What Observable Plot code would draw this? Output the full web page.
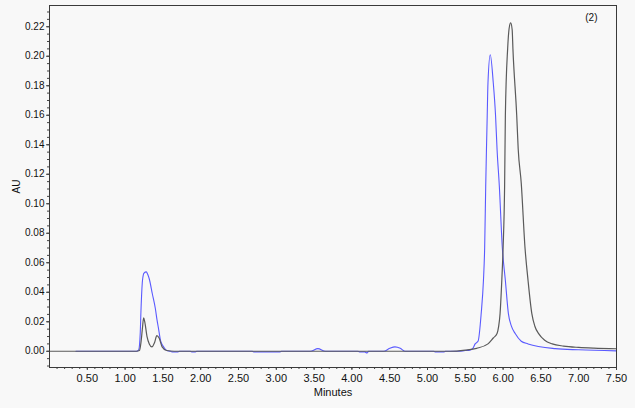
<!DOCTYPE html>
<html><head><meta charset="utf-8">
<script src="https://cdn.jsdelivr.net/npm/d3@7"></script>
<script src="https://cdn.jsdelivr.net/npm/@observablehq/plot@0.6"></script>
<style>
html,body{margin:0;padding:0;background:#f8f8f8;}
#chart svg{display:block;}
</style></head><body><div id="chart"></div>
<script>
// Black (gray) trace: retention time (min) and absorbance (AU)
const blackTime = [0.00,1.15,1.19,1.21,1.23,1.245,1.26,1.29,1.32,1.355,1.39,1.42,1.45,1.49,1.55,1.65,
  5.30,5.50,5.65,5.80,5.87,5.92,5.94,5.96,5.98,6.00,6.02,6.03,6.06,6.08,6.10,6.12,6.13,6.18,6.20,6.24,6.29,6.33,6.38,6.42,6.47,6.55,6.65,6.80,7.00,7.20,7.50];
const blackAU = [0,0,0.0005,0.006,0.016,0.0226,0.020,0.010,0.005,0.003,0.006,0.0106,0.009,0.003,0.0005,0,
  0,0.0008,0.002,0.005,0.009,0.012,0.0165,0.0255,0.045,0.070,0.112,0.160,0.205,0.219,0.2226,0.218,0.205,0.160,0.137,0.114,0.070,0.048,0.0255,0.017,0.012,0.0075,0.005,0.0035,0.0026,0.0021,0.0017];

// Blue trace
const blueTime = [0.35,1.15,1.18,1.20,1.21,1.23,1.25,1.28,1.30,1.32,1.36,1.40,1.42,1.44,1.47,1.51,1.55,1.60,
  1.62,1.70,1.72,1.86,1.88,1.93,1.95,2.68,2.70,3.05,3.07,3.45,3.55,3.65,4.08,4.10,4.17,4.20,4.22,4.42,4.50,4.57,4.64,4.70,
  5.08,5.10,5.22,5.24,5.40,5.50,5.56,5.60,5.63,5.67,5.71,5.74,5.756,5.77,5.78,5.79,5.80,5.83,5.87,5.90,5.92,5.95,5.99,6.03,6.07,6.11,6.16,6.24,6.33,6.69,7.00,7.50];
const blueAU = [0,0,0.001,0.012,0.0276,0.048,0.053,0.0538,0.052,0.049,0.039,0.029,0.022,0.016,0.007,0.003,0.0005,0,
  -0.0004,-0.0004,0,0,-0.0004,-0.0004,0,0,-0.0004,-0.0004,0,0,0.0018,0,0,-0.0004,-0.0004,-0.0012,0,0,0.002,0.003,0.002,0,
  0,-0.0004,-0.0004,0,0,0.0005,0.0008,0.002,0.005,0.007,0.0255,0.048,0.070,0.112,0.137,0.160,0.182,0.201,0.182,0.160,0.137,0.112,0.070,0.048,0.0255,0.017,0.012,0.0068,0.005,0.0018,0.001,0.0003];

const xTicks = [0.5,1.0,1.5,2.0,2.5,3.0,3.5,4.0,4.5,5.0,5.5,6.0,6.5,7.0,7.5];
const xMinorTicks = d3.range(1, 76).map(i => i / 10);
const yTicks = [0,0.02,0.04,0.06,0.08,0.10,0.12,0.14,0.16,0.18,0.20,0.22];
const yMinorTicks = d3.range(-2, 47).map(i => i * 0.005);

const blackData = blackTime.map((t, i) => ({t, v: blackAU[i]}));
const blueData = blueTime.map((t, i) => ({t, v: blueAU[i]}));

const chart = Plot.plot({
  width: 635, height: 408,
  marginLeft: 49, marginRight: 19, marginTop: 5, marginBottom: 41,
  style: {background: "#f8f8f8", fontFamily: "'Liberation Sans', Arial, sans-serif", fontSize: "10px", color: "#111"},
  x: {domain: [0, 7.5]},
  y: {domain: [-0.011, 0.2344]},
  marks: [
    Plot.axisX({ticks: xMinorTicks, tickSize: 2, tickFormat: () => "", label: null, stroke: "#444"}),
    Plot.axisX({ticks: xTicks, tickSize: 3, tickPadding: 4, tickFormat: d3.format(".2f"), stroke: "#444",
      label: "Minutes", labelAnchor: "center", labelArrow: "none", labelOffset: 28, fontSize: 11}),
    Plot.axisY({ticks: yMinorTicks, tickSize: 2, tickFormat: () => "", label: null, stroke: "#444"}),
    Plot.axisY({ticks: yTicks, tickSize: 3, tickPadding: 2, tickFormat: d3.format(".2f"), stroke: "#444",
      label: "AU", labelAnchor: "center", labelArrow: "none", labelOffset: 37}),
    Plot.line(blueData, {x: "t", y: "v", stroke: "#5a5aff", strokeWidth: 1.1, curve: "monotone-x"}),
    Plot.line(blackData, {x: "t", y: "v", stroke: "#5a5a5a", strokeWidth: 1.2, curve: "monotone-x"}),
    Plot.frame({stroke: "#3a3a3a", strokeWidth: 1}),
    Plot.text(["(2)"], {frameAnchor: "top-right", dx: -19, dy: 8, fontSize: 10, fill: "#111"})
  ]
});
document.getElementById("chart").appendChild(chart);
</script></body></html>
